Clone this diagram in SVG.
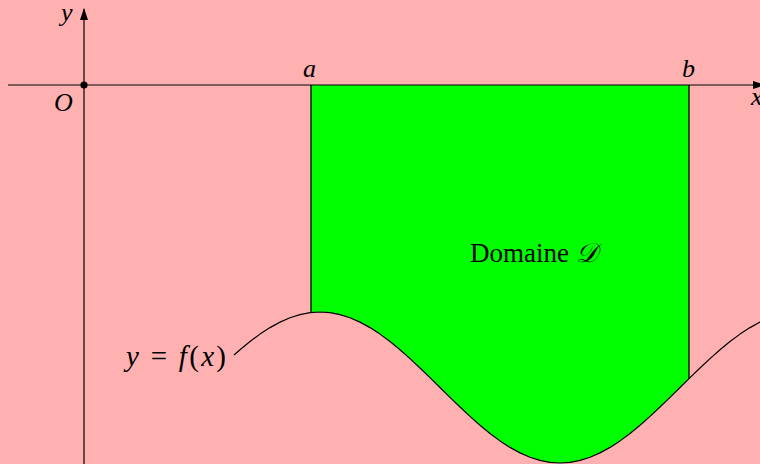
<svg xmlns="http://www.w3.org/2000/svg" width="760" height="464" viewBox="0 0 760 464">
  <style>
    .ax { stroke: #000; stroke-width: 1.2; fill: none; }
    .ln { stroke: #000; stroke-width: 1.3; fill: none; }
    .crv { stroke: #000; stroke-width: 1.2; fill: none; stroke-linejoin: round; }
    .m { font-family: "Liberation Serif", "DejaVu Serif", serif; font-style: italic; font-size: 26px; fill: #000; }
    .eq { font-size: 29px; }
    .up { font-style: normal; }
    .t { font-family: "Liberation Serif", "DejaVu Serif", serif; font-size: 27px; fill: #000; }
  </style>
  <defs>
    <marker id="arr" viewBox="0 0 12 8" refX="11" refY="4" markerWidth="12" markerHeight="8" markerUnits="userSpaceOnUse" orient="auto">
      <path d="M0,0 L12,4 L0,8 Z" fill="#000"/>
    </marker>
  </defs>
  <rect x="0" y="0" width="760" height="464" fill="#FFB0B0"/>

  <g id="domain">
    <polygon fill="#00FF00" points="311,85 689,85 689,378.6 680,387.5 670,397.35 660,407.04 650,416.39 640,425.25 630,433.46 620,440.89 610,447.4 600,452.88 590,457.25 580,460.43 570,462.35 560,463 550,462.35 540,460.43 530,457.25 520,452.88 510,447.4 500,440.89 490,433.46 480,425.25 470,416.39 460,407.04 450,397.35 440,387.5 430,377.65 420,367.96 410,358.61 400,349.75 390,341.54 380,334.11 370,327.6 360,322.12 350,317.75 340,314.57 330,312.65 320,312 311,312.5"/>
  </g>

  <g id="axes">
    <line class="ax" x1="8" y1="85" x2="764" y2="85" marker-end="url(#arr)"/>
    <line class="ax" x1="84" y1="464" x2="84" y2="9" marker-end="url(#arr)"/>
    <circle cx="84" cy="85" r="3.6" fill="#000"/>
  </g>

  <g id="bounds">
    <line class="ln" x1="311" y1="85" x2="311" y2="312.5"/>
    <line class="ln" x1="689" y1="85" x2="689" y2="378.6"/>
  </g>

  <g id="curve">
    <polyline class="crv" points="234,355 240,349.75 250,341.54 260,334.11 270,327.6 280,322.12 290,317.75 300,314.57 310,312.6 320,312 330,312.65 340,314.57 350,317.75 360,322.12 370,327.6 380,334.11 390,341.54 400,349.75 410,358.61 420,367.96 430,377.65 440,387.5 450,397.35 460,407.04 470,416.39 480,425.25 490,433.46 500,440.89 510,447.4 520,452.88 530,457.25 540,460.43 550,462.35 560,463 570,462.35 580,460.43 590,457.25 600,452.88 610,447.4 620,440.89 630,433.46 640,425.25 650,416.39 660,407.04 670,397.35 680,387.5 690,377.65 700,367.96 710,358.61 720,349.75 730,341.54 740,334.11 750,327.6 760,322.12 770,317.75"/>
  </g>

  <g id="labels">
    <text class="m" x="61" y="21">y</text>
    <text class="m" x="54" y="111">O</text>
    <text class="m" x="303" y="77">a</text>
    <text class="m" x="682" y="77">b</text>
    <text class="m" x="751" y="105">x</text>
    <text class="m eq" x="126" y="366" textLength="100" lengthAdjust="spacing"><tspan>y</tspan><tspan class="up"> = </tspan><tspan>f</tspan><tspan class="up">(</tspan><tspan>x</tspan><tspan class="up">)</tspan></text>
    <text class="t" x="470" y="262">Domaine <tspan font-style="italic" font-family="'DejaVu Serif', serif">𝒟</tspan></text>
  </g>
</svg>
